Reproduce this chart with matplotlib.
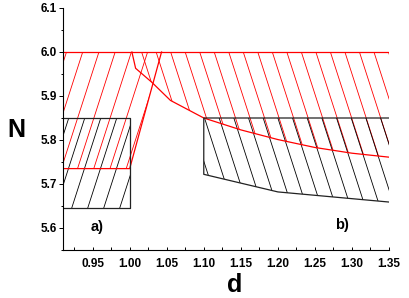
import numpy as np
import matplotlib
matplotlib.use("Agg")
import matplotlib.pyplot as plt
from matplotlib.patches import Polygon
from matplotlib.collections import LineCollection
from matplotlib.ticker import MultipleLocator

plt.rcParams['font.family'] = ['Liberation Sans', 'DejaVu Sans']
plt.rcParams['font.weight'] = 'bold'

# ---- data ----
N_top = 6.0
# lower boundary of red region (right part): curve
red_curve_d = [1.003, 1.008, 1.03, 1.055, 1.10, 1.15, 1.20, 1.25, 1.30, 1.35]
red_curve_N = [6.0, 5.963, 5.931, 5.890, 5.850, 5.823, 5.801, 5.783, 5.770, 5.761]
# lower boundary of red region (left part)
red_left_d = [0.91, 1.00, 1.043]
red_left_N = [5.735, 5.735, 6.0]
# black region a)
black_a_d = [0.91, 1.00]
black_a_N = [5.645, 5.85]
# black region b)
black_b_top = 5.85
black_b_d = [1.10, 1.20, 1.35]
black_b_N = [5.722, 5.682, 5.659]

xlim = (0.91, 1.35)
ylim = (5.55, 6.1)

fig = plt.figure(figsize=(4.09, 2.98), dpi=100)
L, R, B, T = 63/409, 389/409, 1-250/298, 1-8/298
ax = fig.add_axes([L, B, R-L, T-B])
ax.set_xlim(*xlim)
ax.set_ylim(*ylim)

px_per_x = (R-L)*409/(xlim[1]-xlim[0])
px_per_y = (T-B)*298/(ylim[1]-ylim[0])
SLOPE = 3.1  # pixel slope of hatch lines


def hatch(verts, direction, x_ref, y_ref, spacing, color, lw=0.6):
    poly = Polygon(verts, closed=True, facecolor='none', edgecolor='none',
                   transform=ax.transData)
    ax.add_patch(poly)
    k = direction * (px_per_y/px_per_x)/SLOPE  # dx per dy in data
    y0, y1 = 5.4, 6.2
    segs = []
    for i in range(-40, 60):
        xc = x_ref + i*spacing
        segs.append([(xc + k*(y0-y_ref), y0), (xc + k*(y1-y_ref), y1)])
    lc = LineCollection(segs, colors=color, linewidths=lw)
    ax.add_collection(lc)
    lc.set_clip_path(poly)


# red "/" region (left)
red_left_poly = [(red_left_d[0], N_top)] + list(zip(red_left_d, red_left_N))
hatch(red_left_poly, +1, 0.9366, N_top, 0.0219, 'red')
# red "\" region (right, above curve)
red_right_poly = list(zip(red_curve_d, red_curve_N)) + [(red_curve_d[-1], N_top)]
hatch(red_right_poly, -1, 1.0945, N_top, 0.0196, 'red')
# black a) "/"
a_poly = [(black_a_d[0], black_a_N[0]), (black_a_d[1], black_a_N[0]),
          (black_a_d[1], black_a_N[1]), (black_a_d[0], black_a_N[1])]
hatch(a_poly, +1, 0.9217, black_a_N[0], 0.0216, 'black')
# black b) "\"
b_poly = [(black_b_d[0], black_b_top), (black_b_d[-1], black_b_top)] + \
    list(zip(black_b_d[::-1], black_b_N[::-1]))
hatch(b_poly, -1, 1.101, black_b_top, 0.0198, 'black')

# outlines
lw = 0.9
ax.plot([xlim[0], xlim[1]], [N_top, N_top], color='red', lw=lw)
ax.plot(red_curve_d, red_curve_N, color='red', lw=lw)
ax.plot(red_left_d, red_left_N, color='red', lw=lw)
ax.plot([black_a_d[0], black_a_d[1], black_a_d[1], black_a_d[0]],
        [black_a_N[1], black_a_N[1], black_a_N[0], black_a_N[0]],
        color='#222222', lw=lw)
ax.plot([black_b_d[-1], black_b_d[0]] + black_b_d,
        [black_b_top, black_b_top] + black_b_N, color='#222222', lw=lw)

# axes styling
for s in ['top', 'right']:
    ax.spines[s].set_visible(False)
for s in ['left', 'bottom']:
    ax.spines[s].set_linewidth(0.8)

ax.xaxis.set_major_locator(MultipleLocator(0.05))
ax.xaxis.set_minor_locator(MultipleLocator(0.025))
ax.yaxis.set_major_locator(MultipleLocator(0.1))
ax.yaxis.set_minor_locator(MultipleLocator(0.05))
ax.tick_params(axis='x', which='both', direction='in', length=2.5, width=0.7,
               labelsize=8.5, pad=6)
ax.tick_params(axis='y', which='major', direction='out', length=3, width=0.7,
               labelsize=8.5, pad=1.5)
ax.tick_params(axis='y', which='minor', direction='out', length=1.5, width=0.7)
ax.set_xticks([0.95, 1.00, 1.05, 1.10, 1.15, 1.20, 1.25, 1.30, 1.35])
ax.set_xticklabels(['0.95', '1.00', '1.05', '1.10', '1.15', '1.20', '1.25', '1.30', '1.35'])
ax.set_yticks([5.6, 5.7, 5.8, 5.9, 6.0, 6.1])
ax.set_yticklabels(['5.6', '5.7', '5.8', '5.9', '6.0', '6.1'])
for lab in ax.get_xticklabels() + ax.get_yticklabels():
    lab.set_fontweight('bold')

fig.text(16/409, 1-137/298, 'N', fontsize=18, fontweight='bold', ha='center', va='baseline')
fig.text(235/409, 1-292/298, 'd', fontsize=18, fontweight='bold', ha='center', va='baseline')
fig.text(97/409, 1-227/298, 'a)', fontsize=10.5, fontweight='bold', ha='center', va='center')
fig.text(342/409, 1-224.5/298, 'b)', fontsize=10.5, fontweight='bold', ha='center', va='center')

fig.savefig('out.png', dpi=100)
